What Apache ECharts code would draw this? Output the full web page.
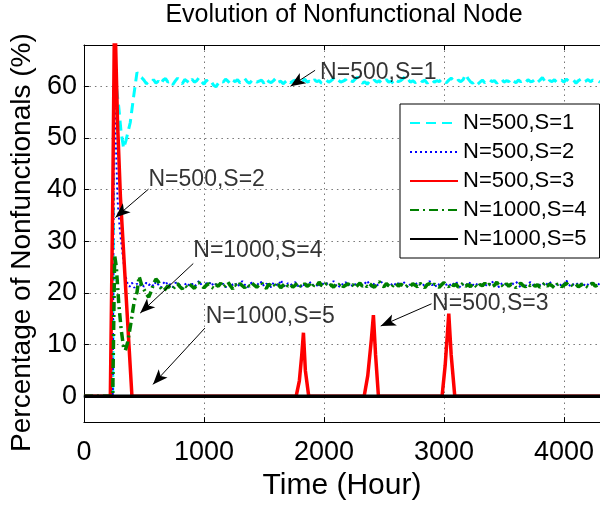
<!DOCTYPE html>
<html><head><meta charset="utf-8">
<script src="https://cdn.jsdelivr.net/npm/echarts@6/dist/echarts.min.js"></script>
<style>html,body{margin:0;padding:0;background:#fff}#c{width:600px;height:506px}</style>
</head><body><div id="c"></div>
<script>
const seriesNames = ['N=500,S=1', 'N=500,S=2', 'N=500,S=3', 'N=1000,S=4', 'N=1000,S=5'];
const titleText = 'Evolution of Nonfunctional Node';
const xAxisTitle = 'Time (Hour)';
const yAxisTitle = 'Percentage of Nonfunctionals (%)';
const xTicks = [0, 1000, 2000, 3000, 4000];
const yTicks = [0, 10, 20, 30, 40, 50, 60];

// sampling grid of the steady-state (noisy) part, in hours
const NOISE_START = 480;
const NOISE_STEP = 20;

// N=500,S=1 : transient, then noisy plateau
const s1Times = [0, 240, 250, 265, 290, 310, 331, 350, 386, 414, 442, 460];
const s1Values = [0, 0, 60, 61, 56, 51, 48, 49.5, 53, 58, 62.7, 62.0];
const s1Noise = [
 61.7,61.2,60.5,60.9,60.7,61.3,60.6,61.0,60.4,61.2,
 61.5,60.8,61.1,60.3,61.0,61.6,60.9,60.5,61.3,61.0,
 60.6,61.4,60.8,61.1,61.7,60.9,60.4,61.2,60.7,61.0,
 60.2,59.9,60.6,61.1,60.8,61.4,61.0,60.5,61.2,60.9,
 61.3,60.7,61.0,61.5,60.9,60.6,61.1,61.3,60.8,61.0,
 61.2,60.6,61.4,60.9,60.7,61.1,61.6,60.8,61.0,60.5,
 60.9,61.3,60.7,61.0,61.2,60.6,61.1,60.9,61.4,60.8,
 61.0,60.7,61.3,60.9,61.1,60.6,61.0,61.2,60.8,61.1,
 61.5,60.9,61.2,60.8,61.0,61.3,60.7,61.1,60.9,61.4,
 61.8,61.2,60.6,60.9,60.4,61.0,60.7,61.2,60.8,61.1,
 60.6,60.9,61.3,60.8,61.0,60.5,61.2,60.9,61.1,61.5,
 62.0,61.4,60.8,61.1,60.7,61.0,61.3,60.9,61.2,60.6,
 61.0,61.3,60.8,61.1,60.9,61.4,61.0,60.7,61.2,61.6,
 61.1,60.8,61.2,60.9,61.3,62.3,61.5,60.9,60.6,61.0,
 60.4,60.8,61.2,60.7,61.0,61.3,60.9,61.1,60.6,61.0,
 61.4,60.8,61.1,60.9,61.5,61.0,60.7,61.2,60.9,61.1,
 60.7,61.3,60.9,61.0,61.4,60.8,61.2,61.7,61.0,60.6,
 61.1,60.9,61.3,60.7,61.0,61.2,60.8,61.4,61.0,60.9,
 61.2,60.6,61.1,61.4,60.8,61.0,61.3,60.9,61.2,61.0,
 61.1,60.8
];

// N=500,S=2
const s2Times = [0, 240, 252, 265, 280, 300, 320, 340, 360, 380, 400, 420, 440, 460];
const s2Values = [0, 0, 60, 50, 38, 32, 28, 24, 22, 21.2, 22.0, 21.0, 21.8, 21.3];
const s2Noise = [
 21.8,21.2,22.0,21.5,21.9,21.3,22.2,21.6,21.0,21.8,
 22.3,21.4,21.7,21.1,21.9,22.1,21.5,20.9,21.6,22.0,
 21.4,21.8,21.2,21.7,22.4,21.5,21.0,21.9,21.6,22.2,
 21.3,21.7,22.0,21.4,21.8,21.1,21.6,22.1,21.5,21.9,
 21.2,21.8,22.3,21.6,21.0,21.7,22.0,21.4,21.9,21.5,
 22.2,21.3,21.8,21.6,21.1,22.0,21.7,21.4,22.5,21.6,
 21.2,21.9,21.5,21.8,22.1,21.3,21.7,21.0,21.9,21.6,
 22.2,21.4,21.8,21.5,21.1,22.0,21.6,21.9,21.3,21.7,
 22.3,21.5,21.0,21.8,21.6,22.1,21.4,21.9,21.2,21.7,
 21.5,22.0,21.3,21.8,22.4,21.6,21.1,21.9,21.5,21.7,
 22.1,21.4,21.8,21.2,21.6,22.0,21.5,21.9,21.3,22.2,
 21.7,21.0,21.8,21.5,22.1,21.4,21.7,21.9,21.2,21.6,
 22.3,21.5,21.8,21.1,21.7,22.0,21.4,21.6,21.9,21.3,
 21.8,22.2,21.5,21.0,21.7,21.9,21.4,22.1,21.6,21.3,
 21.9,21.5,22.0,21.2,21.8,21.6,22.3,21.4,21.7,21.1,
 21.8,22.0,21.5,21.7,21.3,21.9,22.2,21.6,21.0,21.8,
 21.4,21.7,22.1,21.5,21.9,21.2,21.6,22.0,21.4,21.8,
 22.2,21.5,21.1,21.7,21.9,21.3,21.8,22.4,21.6,21.2,
 21.7,22.0,21.5,21.8,21.3,21.9,21.6,22.1,21.4,21.7,
 21.9,21.5
];

// N=500,S=3 : transient spike and three later bursts
const s3Times = [0, 220, 240, 258, 262, 280, 304, 350, 400, 1768, 1795, 1815, 1829, 1845, 1873, 2335, 2365, 2395, 2412, 2430, 2454, 2984, 3010, 3028, 3040, 3060, 3090, 4300];
const s3Values = [0, 0, 38, 82, 70, 53, 38.6, 20, 0, 0, 3, 8, 12.3, 5, 0, 0, 4, 11, 15.7, 8, 0, 0, 6, 12, 16, 8, 0, 0];

// N=1000,S=4
const s4Times = [0, 240, 256, 270, 290, 310, 330, 345, 365, 390, 420, 442, 460];
const s4Values = [0, 0, 27.3, 25, 18, 13, 9.5, 8.9, 10.5, 14, 18.5, 20.1, 23.2];
const s4Noise = [
 21.6,20.7,19.8,19.2,20.3,21.8,22.7,22.2,21.0,20.4,
 20.8,21.4,20.9,20.7,21.3,21.8,21.2,20.8,21.5,21.1,
 21.7,21.3,20.9,21.6,22.0,21.4,21.0,21.5,21.8,21.2,
 20.9,21.6,21.3,21.9,21.1,21.5,22.1,21.4,20.8,21.6,
 21.2,21.8,21.4,21.0,21.7,21.3,21.9,21.5,21.1,21.6,
 22.0,21.3,20.9,21.7,21.4,21.8,21.2,21.6,21.0,21.5,
 21.9,21.3,21.7,21.1,21.5,22.0,21.4,21.2,21.8,21.3,
 21.6,21.0,21.7,21.4,22.1,21.5,21.2,21.8,21.3,21.6,
 21.1,21.7,21.4,21.9,21.2,21.5,21.8,21.3,21.6,21.0,
 21.5,21.9,21.3,21.6,21.2,21.8,21.4,21.1,21.7,22.2,
 21.5,21.2,21.8,21.4,21.0,21.6,21.9,21.3,21.7,21.4,
 21.1,21.6,21.3,21.8,21.5,21.2,21.9,21.4,21.0,21.6,
 21.8,21.3,21.7,21.4,21.1,21.6,22.0,21.5,21.2,21.8,
 21.4,21.7,21.1,21.5,21.9,21.3,21.6,21.2,21.8,21.5,
 21.0,21.6,21.4,21.9,21.3,21.7,21.2,21.5,22.1,21.4,
 21.6,21.1,21.8,21.3,21.7,21.5,21.0,21.6,21.9,21.4,
 21.2,21.7,21.4,21.8,21.3,21.6,21.1,21.5,21.9,21.3,
 21.7,21.4,21.0,21.6,21.8,21.2,21.5,21.9,21.4,21.6,
 21.3,21.7,21.2,21.5,21.8,21.4,21.1,21.6,21.9,21.3,
 21.5,21.7
];

// N=1000,S=5 : flat at zero
const s5Times = [0, 4300];
const s5Values = [0, 0];

// annotation texts with their anchor and arrow (data coordinates)
const annotations = [
  { text: 'N=500,S=1',  textAt: [1968, 62.7], from: [1926, 63.1], to: [1721, 60.0] },
  { text: 'N=500,S=2',  textAt: [538, 42.0],  from: [538, 40.1],  to: [262, 34.6] },
  { text: 'N=1000,S=4', textAt: [911, 28.2],  from: [911, 25.7],  to: [469, 16.1] },
  { text: 'N=1000,S=5', textAt: [1014, 15.4], from: [1008, 13.2], to: [575, 2.3] },
  { text: 'N=500,S=3',  textAt: [2901, 17.9], from: [2896, 17.9], to: [2473, 13.6] }
];

function build(times, values, noise) {
  const d = times.map((t, i) => [t, values[i]]);
  if (noise) noise.forEach((v, i) => d.push([NOISE_START + i * NOISE_STEP, v]));
  return d;
}

const FONT = 'Liberation Sans, Arial, sans-serif';
const chart = echarts.init(document.getElementById('c'), null, { renderer: 'canvas' });

const lineBase = { type: 'line', showSymbol: false, symbol: 'none', silent: true, animation: false, xAxisIndex: 0, yAxisIndex: 0, clip: true };

chart.setOption({
  animation: false,
  backgroundColor: '#fff',
  title: {
    text: titleText, left: 344, top: 3, textAlign: 'center', padding: 0,
    textStyle: { fontFamily: FONT, fontSize: 25, fontWeight: 'normal', color: '#000' }
  },
  legend: {
    data: seriesNames, orient: 'vertical', left: 400, top: 104,
    itemWidth: 48, itemHeight: 22, itemGap: 7, padding: [8, 13, 8, 9],
    borderColor: '#000', borderWidth: 1, backgroundColor: '#fff', borderRadius: 0,
    itemStyle: { opacity: 0, borderWidth: 0 },
    textStyle: { fontFamily: FONT, fontSize: 22, color: '#000', lineHeight: 22 },
    selectedMode: false
  },
  grid: { left: 83, top: 45, right: -2, bottom: 73, show: false },
  xAxis: [{
    type: 'value', min: 0, max: 4300, interval: 1000,
    name: xAxisTitle, nameLocation: 'middle', nameGap: 35,
    nameTextStyle: { fontFamily: FONT, fontSize: 30, color: '#000' },
    axisLine: { show: true, onZero: false, lineStyle: { color: '#000', width: 1 } },
    axisTick: { show: true, inside: true, length: 5, lineStyle: { color: '#000' } },
    axisLabel: { fontFamily: FONT, fontSize: 27, color: '#000', margin: 17, showMaxLabel: false,
      formatter: v => (xTicks.indexOf(v) >= 0 ? String(v) : '') },
    splitLine: { show: true, lineStyle: { color: '#777', type: [1.5, 4], width: 1 } }
  }, {
    type: 'value', min: 0, max: 4300, interval: 1000, position: 'top',
    axisLine: { show: true, onZero: false, lineStyle: { color: '#000', width: 1 } },
    axisTick: { show: true, inside: true, length: 5, lineStyle: { color: '#000' } },
    axisLabel: { show: false }, splitLine: { show: false }
  }],
  yAxis: [{
    type: 'value', min: -5, max: 68, splitNumber: 7,
    name: yAxisTitle, nameLocation: 'middle', nameGap: 47,
    nameTextStyle: { fontFamily: FONT, fontSize: 28, color: '#000', padding: [0, 18, 0, 0] },
    axisLine: { show: true, onZero: false, lineStyle: { color: '#000', width: 1 } },
    axisTick: { show: true, inside: true, length: 5, lineStyle: { color: '#000' } },
    axisLabel: { fontFamily: FONT, fontSize: 27, color: '#000', margin: 7, showMinLabel: false, showMaxLabel: false,
      formatter: v => (yTicks.indexOf(v) >= 0 ? String(v) : '') },
    splitLine: { show: true, lineStyle: { color: '#777', type: [1.5, 4], width: 1 } }
  }],
  series: [
    Object.assign({}, lineBase, { name: seriesNames[0], data: build(s1Times, s1Values, s1Noise),
      lineStyle: { color: '#00ffff', width: 3, type: [10, 6] }, itemStyle: { color: '#00ffff' } }),
    Object.assign({}, lineBase, { name: seriesNames[1], data: build(s2Times, s2Values, s2Noise),
      lineStyle: { color: '#0000ff', width: 2, type: [2, 3] }, itemStyle: { color: '#0000ff' } }),
    Object.assign({}, lineBase, { name: seriesNames[2], data: build(s3Times, s3Values),
      lineStyle: { color: '#ff0000', width: 3.5, type: 'solid' }, itemStyle: { color: '#ff0000' } }),
    Object.assign({}, lineBase, { name: seriesNames[3], data: build(s4Times, s4Values, s4Noise),
      lineStyle: { color: '#008000', width: 3.5, type: [9, 4, 2, 4] }, itemStyle: { color: '#008000' } }),
    Object.assign({}, lineBase, { name: seriesNames[4], data: build(s5Times, s5Values),
      lineStyle: { color: '#000000', width: 3.5, type: 'solid' }, itemStyle: { color: '#000000' } }),
    {
      type: 'scatter', name: 'annotations', silent: true, z: 10, animation: false,
      symbolSize: 0, itemStyle: { color: 'rgba(0,0,0,0)' },
      data: annotations.map(a => ({ value: a.textAt, label: { formatter: a.text } })),
      label: { show: true, position: 'right', distance: 0, fontFamily: FONT, fontSize: 23, color: '#000' },
      markLine: {
        silent: true, animation: false, symbol: ['none', 'arrow'], symbolSize: [9, 15],
        lineStyle: { color: '#000', width: 1, type: 'solid' }, label: { show: false },
        emphasis: { disabled: true },
        data: annotations.map(a => [{ coord: a.from }, { coord: a.to }])
      }
    }
  ]
});
</script>
</body></html>
